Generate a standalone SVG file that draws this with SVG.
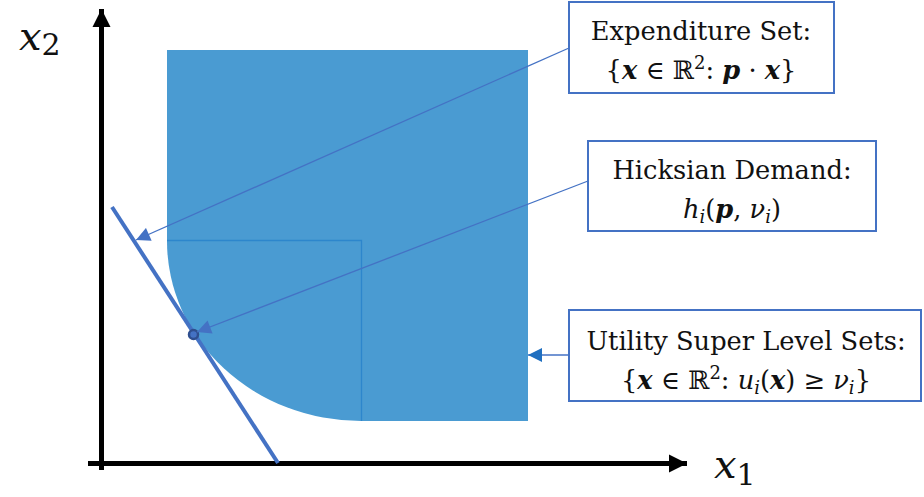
<svg xmlns="http://www.w3.org/2000/svg" width="924" height="497" viewBox="0 0 924 497">
  <style>
    .box { fill: #ffffff; stroke: #4472C4; stroke-width: 2; }
    .lbl { font-family: "DejaVu Serif", "Liberation Serif", serif; font-size: 25.7px; fill: #111; text-anchor: middle; }
    .m { font-style: italic; }
    .v { font-style: italic; font-weight: bold; }
    .axlbl { font-family: "DejaVu Serif", "Liberation Serif", serif; font-size: 40px; font-style: italic; fill: #111; }
    .conn { stroke: #4472C4; stroke-width: 1.3; fill: none; }
  </style>
  <defs>
    <marker id="tri" viewBox="0 0 10 10" refX="10" refY="5" markerWidth="16" markerHeight="14" markerUnits="userSpaceOnUse" orient="auto">
      <path d="M0,0 L10,5 L0,10 Z" fill="#4472C4"/>
    </marker>
    <marker id="triB" viewBox="0 0 10 10" refX="10" refY="5" markerWidth="16" markerHeight="14" markerUnits="userSpaceOnUse" orient="auto">
      <path d="M0,0 L10,5 L0,10 Z" fill="#1F6FC0"/>
    </marker>
    <marker id="axhead" viewBox="0 0 10 10" refX="10" refY="5" markerWidth="18" markerHeight="19" markerUnits="userSpaceOnUse" orient="auto">
      <path d="M0,0 L10,5 L0,10 Z" fill="#000"/>
    </marker>
  </defs>

  <!-- upper contour set -->
  <g id="level-set">
    <path d="M167,50 H528 V421 H361 A194,180 0 0 1 167,241 Z" fill="#4A9BD2"/>
    <path d="M167,240.5 H361.5 V421" fill="none" stroke="#2D86CC" stroke-width="1.3"/>
  </g>

  <!-- axes -->
  <g id="axes">
    <line x1="101.5" y1="470" x2="101.5" y2="9" stroke="#000" stroke-width="5" marker-end="url(#axhead)"/>
    <line x1="88" y1="463.5" x2="687" y2="463.5" stroke="#000" stroke-width="5" marker-end="url(#axhead)"/>
    <text class="axlbl" x="19" y="50">x<tspan font-style="normal" font-size="30" dy="5">2</tspan></text>
    <text class="axlbl" x="714" y="478">x<tspan font-style="normal" font-size="30" dy="7">1</tspan></text>
  </g>

  <!-- budget line and optimum -->
  <g id="budget-line">
    <line x1="112" y1="207" x2="278" y2="463" stroke="#4472C4" stroke-width="4"/>
  </g>
  <g id="demand-point">
    <circle cx="193.5" cy="334.5" r="4.5" fill="#4472C4" stroke="#2F4F8F" stroke-width="2.5"/>
  </g>

  <!-- connectors -->
  <g id="connectors">
    <line class="conn" x1="569" y1="48" x2="136" y2="240" marker-end="url(#tri)"/>
    <line class="conn" x1="588" y1="181" x2="197" y2="332" marker-end="url(#tri)"/>
    <line class="conn" x1="569" y1="355" x2="528" y2="355" stroke="#1F6FC0" marker-end="url(#triB)"/>
  </g>

  <!-- callouts -->
  <g id="expenditure-set">
    <rect class="box" x="569" y="2" width="265" height="91"/>
    <text class="lbl" x="701" y="40">Expenditure Set:</text>
    <text class="lbl" x="701" y="79">{<tspan class="v">x</tspan> ∈ ℝ<tspan font-size="18" dy="-10">2</tspan><tspan dy="10">: </tspan><tspan class="v">p</tspan> · <tspan class="v">x</tspan>}</text>
  </g>

  <g id="hicksian-demand">
    <rect class="box" x="588" y="141" width="288" height="90"/>
    <text class="lbl" x="732" y="179">Hicksian Demand:</text>
    <text class="lbl" x="732" y="218"><tspan class="m">h</tspan><tspan class="m" font-size="18" dy="5">i</tspan><tspan dy="-5">(</tspan><tspan class="v">p</tspan>, <tspan class="m">ν</tspan><tspan class="m" font-size="18" dy="5">i</tspan><tspan dy="-5">)</tspan></text>
  </g>

  <g id="utility-level-sets">
    <rect class="box" x="569" y="310" width="352" height="91"/>
    <text class="lbl" x="746" y="350">Utility Super Level Sets:</text>
    <text class="lbl" x="746" y="389">{<tspan class="v">x</tspan> ∈ ℝ<tspan font-size="18" dy="-10">2</tspan><tspan dy="10">: </tspan><tspan class="m">u</tspan><tspan class="m" font-size="18" dy="5">i</tspan><tspan dy="-5">(</tspan><tspan class="v">x</tspan>) ≥ <tspan class="m">ν</tspan><tspan class="m" font-size="18" dy="5">i</tspan><tspan dy="-5">}</tspan></text>
  </g>
</svg>
